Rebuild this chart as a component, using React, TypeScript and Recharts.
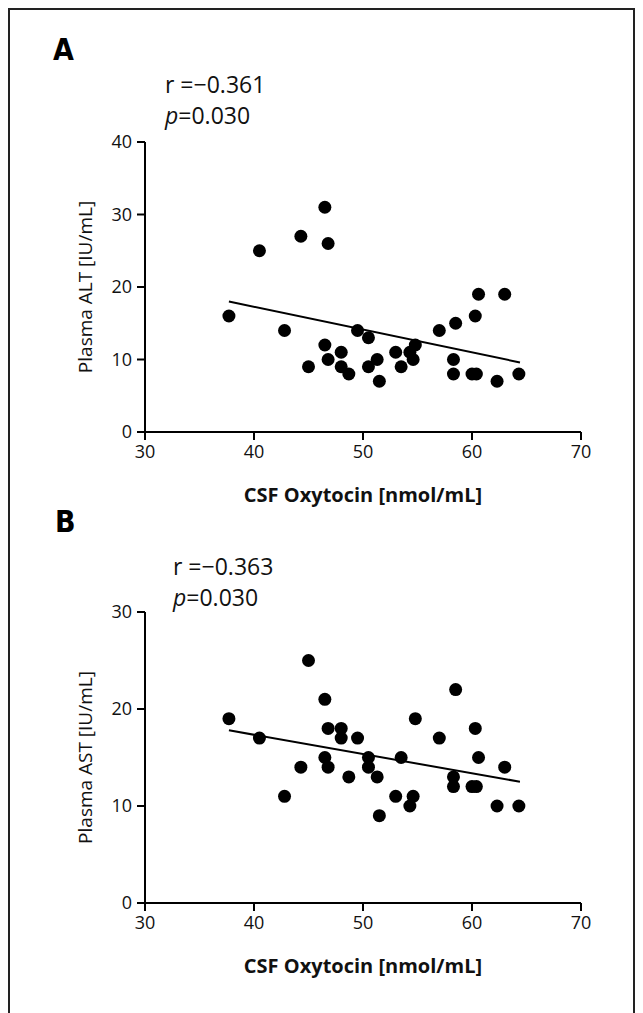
import React from "react";
import { ScatterChart, Scatter, XAxis, YAxis, ReferenceLine } from "recharts";

// CSF oxytocin per subject, shared by both panels
const oxytocin = [
  37.7, 40.5, 42.8, 44.3, 45.0, 46.5, 46.5, 46.8, 46.8, 48.0, 48.0, 48.7, 49.5,
  50.5, 50.5, 51.3, 51.5, 53.0, 53.5, 54.3, 54.6, 54.8, 57.0, 58.3, 58.3, 58.5,
  60.0, 60.3, 60.4, 60.6, 62.3, 63.0, 64.3,
];
const plasmaAlt = [
  16, 25, 14, 27, 9, 31, 12, 26, 10, 11, 9, 8, 14, 13, 9, 10, 7, 11, 9, 11, 10,
  12, 14, 10, 8, 15, 8, 16, 8, 19, 7, 19, 8,
];
const plasmaAst = [
  19, 17, 11, 14, 25, 21, 15, 18, 14, 18, 17, 13, 17, 15, 14, 13, 9, 11, 15, 10,
  11, 19, 17, 13, 12, 22, 12, 18, 12, 15, 10, 14, 10,
];

// regression line ends
const altFit = [
  { x: 37.7, y: 18.0 },
  { x: 64.4, y: 9.6 },
];
const astFit = [
  { x: 37.7, y: 17.8 },
  { x: 64.4, y: 12.5 },
];

const xTicks = [30, 40, 50, 60, 70];
const altTicks = [0, 10, 20, 30, 40];
const astTicks = [0, 10, 20, 30];

const FONT = '"Open Sans", sans-serif';
const tickStyle = { fill: "#111", fontSize: 18, fontFamily: FONT };
const axisStroke = { stroke: "#000", strokeWidth: 2 };

const Dot = (props: any) => <circle cx={props.cx} cy={props.cy} r={6.5} fill="#000" />;

type PanelProps = {
  ys: number[];
  yTicks: number[];
  fit: { x: number; y: number }[];
  yLabel: string;
  top: number;
  height: number;
  plotTop: number;
  xAxisHeight: number;
};

const Panel = ({ ys, yTicks, fit, yLabel, top, height, plotTop, xAxisHeight }: PanelProps) => {
  const data = oxytocin.map((x, i) => ({ x, y: ys[i] }));
  return (
    <div style={{ position: "absolute", left: 0, top }}>
      <ScatterChart width={627} height={height} margin={{ top: plotTop, right: 54, bottom: 0, left: 77 }}>
        <XAxis
          type="number"
          dataKey="x"
          domain={[30, 70]}
          ticks={xTicks}
          interval={0}
          tickSize={8}
          tickMargin={5}
          height={xAxisHeight}
          axisLine={axisStroke}
          tickLine={axisStroke}
          tick={tickStyle}
          label={{
            value: "CSF Oxytocin [nmol/mL]",
            position: "insideTop",
            offset: 56,
            style: { fill: "#111", fontSize: 20, fontWeight: 700, fontFamily: FONT },
          }}
        />
        <YAxis
          type="number"
          dataKey="y"
          domain={[yTicks[0], yTicks[yTicks.length - 1]]}
          ticks={yTicks}
          interval={0}
          width={60}
          tickSize={8}
          tickMargin={5}
          axisLine={axisStroke}
          tickLine={axisStroke}
          tick={tickStyle}
          label={{
            value: yLabel,
            angle: -90,
            position: "insideLeft",
            offset: 0,
            style: { fill: "#111", fontSize: 19, fontFamily: FONT, textAnchor: "middle" },
          }}
        />
        <ReferenceLine segment={fit} stroke="#000" strokeWidth={2} />
        <Scatter data={data} fill="#000" shape={Dot} isAnimationActive={false} />
      </ScatterChart>
    </div>
  );
};

const letterStyle: React.CSSProperties = {
  position: "absolute",
  fontFamily: '"Liberation Sans Narrow", "DejaVu Sans Condensed", sans-serif',
  fontWeight: 700,
  fontSize: 30,
  lineHeight: 1,
  color: "#000",
};

const statStyle: React.CSSProperties = {
  position: "absolute",
  fontFamily: FONT,
  fontSize: 23,
  lineHeight: 1,
  color: "#111",
  whiteSpace: "nowrap",
};

const Stats = ({ r, top, left }: { r: string; top: number; left: number }) => (
  <>
    <div style={{ ...statStyle, left, top }}>r =−{r}</div>
    <div style={{ ...statStyle, left, top: top + 31 }}>
      <i>p</i>=0.030
    </div>
  </>
);

export default function App() {
  return (
    <div style={{ position: "relative", width: 627, height: 1010 }}>
      <div
        style={{
          position: "absolute",
          left: 0,
          top: 0,
          width: 627,
          height: 1030,
          boxSizing: "border-box",
          border: "2px solid #222",
        }}
      />
      <div style={{ ...letterStyle, left: 45, top: 27 }}>A</div>
      <div style={{ ...letterStyle, left: 47, top: 499 }}>B</div>
      <Stats r="0.361" top={65} left={157} />
      <Stats r="0.363" top={547} left={165} />
      <Panel ys={plasmaAlt} yTicks={altTicks} fit={altFit} yLabel="Plasma ALT [IU/mL]" top={0} height={530} plotTop={134} xAxisHeight={106} />
      <Panel ys={plasmaAst} yTicks={astTicks} fit={astFit} yLabel="Plasma AST [IU/mL]" top={530} height={475} plotTop={74} xAxisHeight={110} />
    </div>
  );
}
